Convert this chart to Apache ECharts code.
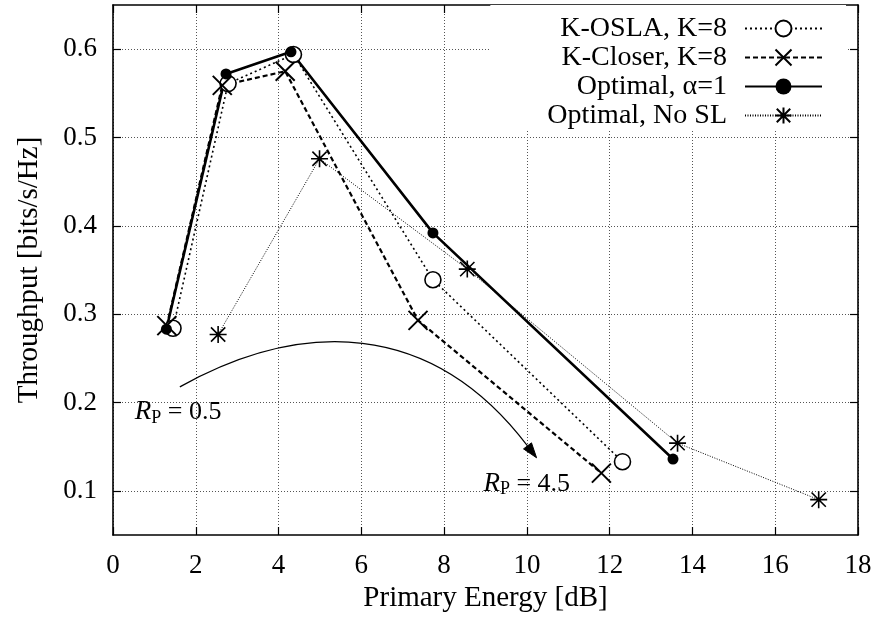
<!DOCTYPE html>
<html><head><meta charset="utf-8">
<script src="https://cdn.jsdelivr.net/npm/echarts@6/dist/echarts.min.js"></script>
<style>html,body{margin:0;padding:0;background:#fff}#c{width:879px;height:626px}</style>
</head><body><div id="c"></div>
<script>
// ---- data ----
const seriesNames = ['K-OSLA, K=8', 'K-Closer, K=8', 'Optimal, \u03b1=1', 'Optimal, No SL'];
const koslaX  = [1.45, 2.78, 4.36, 7.73, 12.31];
const koslaY  = [0.284, 0.561, 0.594, 0.339, 0.133];
const closerX = [1.30, 2.64, 4.16, 7.37, 11.80];
const closerY = [0.287, 0.559, 0.575, 0.293, 0.120];
const optX    = [1.29, 2.73, 4.30, 7.73, 13.53];
const optY    = [0.283, 0.572, 0.597, 0.392, 0.136];
const noslX   = [2.54, 4.99, 8.56, 13.64, 17.05];
const noslY   = [0.277, 0.476, 0.351, 0.154, 0.090];
const xTickValues = [0, 2, 4, 6, 8, 10, 12, 14, 16, 18];
const yTickValues = [0.1, 0.2, 0.3, 0.4, 0.5, 0.6];
// annotation (data units): arc start, control 1, control 2, end
const arcPts = [[1.615, 0.2177], [4.520, 0.2934], [7.667, 0.2957], [10.234, 0.1374]];
const label1Pos = [0.525, 0.1889];
const label2Pos = [8.95, 0.108];
const label1Val = '0.5';
const label2Val = '4.5';

const FONT = 'Liberation Serif, Times New Roman, serif';
const zip = (xs, ys) => xs.map((x, i) => [x, ys[i]]);
const gridLine = { show: true, lineStyle: { color: '#555', width: 1, type: [1, 2] } };

const xBase = {
  type: 'value', min: 0, max: 18, interval: 2,
  axisLine: { show: true, onZero: false, lineStyle: { color: '#000', width: 1.6 } },
  axisTick: { show: true, inside: true, length: 8, lineStyle: { color: '#000', width: 1.2 } }
};
const yBase = {
  type: 'value', min: 0.05, max: 0.65,
  axisLine: { show: true, onZero: false, lineStyle: { color: '#000', width: 1.6 } },
  axisTick: { show: true, inside: true, length: 8, customValues: yTickValues, lineStyle: { color: '#000', width: 1.2 } }
};

const option = {
  animation: false,
  backgroundColor: '#fff',
  grid: { left: 113, right: 21, top: 5, bottom: 91, show: false },
  xAxis: [
    Object.assign({}, xBase, {
      position: 'bottom',
      name: 'Primary Energy [dB]', nameLocation: 'middle', nameGap: 41,
      nameTextStyle: { fontFamily: FONT, fontSize: 29, color: '#000' },
      axisLabel: { show: true, margin: 17, fontFamily: FONT, fontSize: 27, color: '#000', customValues: xTickValues },
      splitLine: gridLine
    }),
    Object.assign({}, xBase, { position: 'top', axisLabel: { show: false }, splitLine: { show: false } })
  ],
  yAxis: [
    Object.assign({}, yBase, {
      position: 'left',
      name: 'Throughput [bits/s/Hz]', nameLocation: 'middle', nameGap: 69,
      nameTextStyle: { fontFamily: FONT, fontSize: 29, color: '#000' },
      axisLabel: { show: true, margin: 16, fontFamily: FONT, fontSize: 27, color: '#000', customValues: yTickValues,
        formatter: v => v.toFixed(1) },
      splitLine: gridLine
    }),
    Object.assign({}, yBase, { position: 'right', axisLabel: { show: false }, splitLine: { show: false } })
  ],
  legend: {
    orient: 'vertical', right: 33, top: 5, align: 'right',
    itemWidth: 77, itemHeight: 20, itemGap: 0,
    padding: [9, 23, 0, 57],
    backgroundColor: '#fff',
    textStyle: { fontFamily: FONT, fontSize: 28, color: '#000', lineHeight: 29, padding: [0, 13, 0, 0] },
    data: seriesNames
  },
  series: [
    {
      name: seriesNames[0], type: 'line', data: zip(koslaX, koslaY),
      symbol: 'circle', symbolSize: 16, showAllSymbol: true,
      itemStyle: { color: '#fff', borderColor: '#000', borderWidth: 1.6 },
      lineStyle: { color: '#000', width: 1.6, type: [2, 3] }
    },
    {
      name: seriesNames[1], type: 'line', data: zip(closerX, closerY),
      symbol: 'path://M0,0L10,10M10,0L0,10', symbolSize: 19, showAllSymbol: true,
      itemStyle: { color: 'rgba(0,0,0,0)', borderColor: '#000', borderWidth: 2 },
      lineStyle: { color: '#000', width: 2.2, type: [5, 3] }
    },
    {
      name: seriesNames[2], type: 'line', data: zip(optX, optY),
      symbol: 'circle', symbolSize: 11, showAllSymbol: true,
      itemStyle: { color: '#000', borderColor: '#000', borderWidth: 0 },
      lineStyle: { color: '#000', width: 2.6, type: 'solid' }
    },
    {
      name: seriesNames[3], type: 'line', data: zip(noslX, noslY),
      symbol: 'path://M5,0L5,10M0,5L10,5M0.8,0.8L9.2,9.2M9.2,0.8L0.8,9.2', symbolSize: 17, showAllSymbol: true,
      itemStyle: { color: 'rgba(0,0,0,0)', borderColor: '#000', borderWidth: 1.6 },
      lineStyle: { color: '#000', width: 1, type: [1, 1.5] }
    }
  ]
};

const chart = echarts.init(document.getElementById('c'), null, { renderer: 'canvas' });
chart.setOption(option);

const px = p => chart.convertToPixel({ seriesIndex: 0 }, p);
const a0 = px(arcPts[0]), a1 = px(arcPts[1]), a2 = px(arcPts[2]), a3 = px(arcPts[3]);
let dx = a3[0] - a2[0], dy = a3[1] - a2[1];
const dl = Math.sqrt(dx * dx + dy * dy); dx /= dl; dy /= dl;
const aLen = 15, aHalf = 5;
const bx = a3[0] - aLen * dx, by = a3[1] - aLen * dy;
const l1 = px(label1Pos), l2 = px(label2Pos);
const rich = {
  r: { fontFamily: FONT, fontStyle: 'italic', fontSize: 27, lineHeight: 27, color: '#000' },
  s: { fontFamily: FONT, fontSize: 18, lineHeight: 18, padding: [11, 0, 0, 0], color: '#000' },
  t: { fontFamily: FONT, fontSize: 26, lineHeight: 27, color: '#000' }
};
const mkLabel = (p, v) => ({
  type: 'text', x: p[0], y: p[1], z: 50,
  style: { text: '{r|R}{s|P}{t| = ' + v + '}', rich: rich, align: 'left', verticalAlign: 'middle' }
});
chart.setOption({
  graphic: [
    { type: 'bezierCurve', z: 50,
      shape: { x1: a0[0], y1: a0[1], cpx1: a1[0], cpy1: a1[1], cpx2: a2[0], cpy2: a2[1], x2: bx, y2: by },
      style: { stroke: '#000', lineWidth: 1.2, fill: null } },
    { type: 'polygon', z: 50,
      shape: { points: [[a3[0], a3[1]], [bx - aHalf * dy, by + aHalf * dx], [bx + aHalf * dy, by - aHalf * dx]] },
      style: { fill: '#000', stroke: '#000', lineWidth: 1 } },
    mkLabel(l1, label1Val),
    mkLabel(l2, label2Val)
  ]
});
</script>
</body></html>
